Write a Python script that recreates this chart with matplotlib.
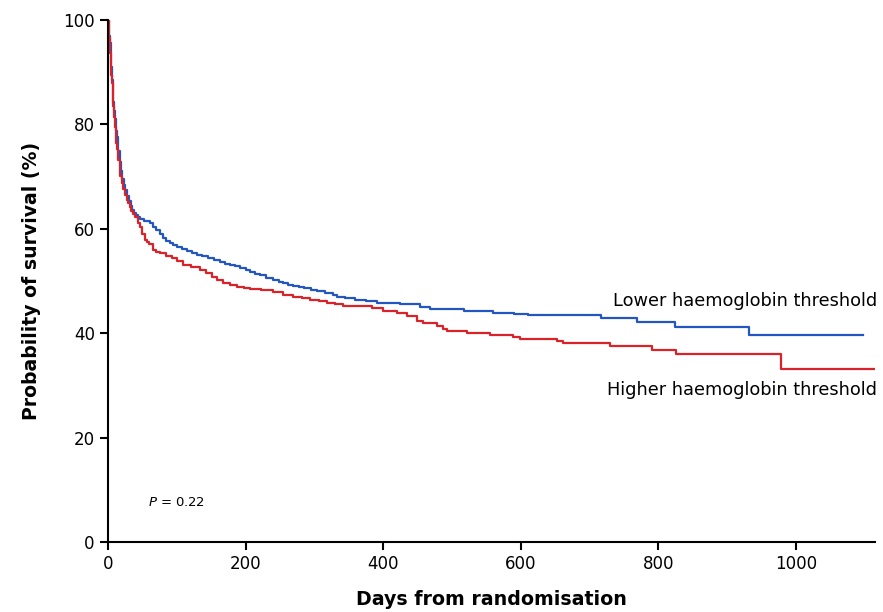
import matplotlib
matplotlib.use("Agg")
import matplotlib.pyplot as plt

# Kaplan-Meier step data (day of drop, survival % after drop)
lower_days = [0, 1, 2, 3, 4, 5, 6, 7, 8, 9, 10, 11, 12, 13, 15, 17, 19, 21, 23, 25, 28,
              30, 33, 35, 38, 40, 43, 46, 52, 61, 66, 70, 75, 80, 85, 90, 95, 100, 108,
              115, 122, 129, 137, 145, 154, 163, 170, 178, 185, 192, 200, 207, 214, 221,
              230, 240, 248, 255, 262, 269, 277, 285, 295, 304, 316, 327, 333, 345, 359,
              375, 391, 425, 454, 468, 517, 560, 590, 611, 716, 769, 825, 932, 1097]
lower_surv = [100, 98.5, 97, 95.6, 93, 91, 88.5, 86, 84.2, 82.5, 81, 79.8, 78.7, 77.6,
              75.0, 72.8, 71.0, 69.5, 68.4, 67.4, 66.2, 65.3, 64.3, 63.6, 63.0, 62.6, 62.2,
              61.9, 61.5, 61.1, 60.4, 59.8, 59.0, 58.2, 57.7, 57.3, 56.9, 56.6, 56.1, 55.7,
              55.4, 55.0, 54.7, 54.4, 54.0, 53.7, 53.3, 53.0, 52.8, 52.5, 52.1, 51.8, 51.4,
              51.1, 50.6, 50.2, 49.9, 49.6, 49.3, 49.0, 48.8, 48.6, 48.3, 48.1, 47.7, 47.3,
              46.9, 46.7, 46.4, 46.1, 45.8, 45.6, 45.1, 44.6, 44.3, 43.9, 43.7, 43.4, 42.9,
              42.1, 41.2, 39.7, 39.7]

higher_days = [0, 1, 2, 3, 4, 5, 6, 7, 8, 9, 10, 11, 12, 13, 15, 17, 18, 20, 22, 25, 27,
               29, 32, 34, 37, 39, 43, 46, 50, 54, 57, 60, 65, 70, 76, 85, 93, 101, 109,
               120, 134, 142, 151, 159, 167, 177, 187, 197, 207, 222, 240, 255, 269, 282,
               294, 307, 319, 330, 342, 384, 400, 420, 435, 449, 458, 478, 487, 493, 522,
               556, 589, 599, 653, 662, 730, 791, 826, 979, 1113]
higher_surv = [100, 98, 96.5, 93.7, 91, 89.5, 88, 85.5, 83.5, 81.5, 79.5, 78, 76.5, 75.2,
               73.2, 71.2, 70.2, 68.8, 67.6, 66.5, 65.6, 65.0, 64.2, 63.5, 62.8, 62.3, 61.2,
               60.3, 59.0, 57.9, 57.5, 57.0, 55.9, 55.6, 55.4, 54.8, 54.4, 53.8, 53.1, 52.6,
               52.1, 51.5, 50.8, 50.2, 49.6, 49.2, 48.9, 48.7, 48.5, 48.2, 47.9, 47.4, 47.0,
               46.7, 46.4, 46.1, 45.8, 45.5, 45.3, 44.8, 44.3, 43.9, 43.2, 42.4, 42.0, 41.4,
               40.8, 40.4, 40.1, 39.7, 39.3, 38.9, 38.5, 38.2, 37.5, 36.8, 36.0, 33.1, 33.1]

x_ticks = [0, 200, 400, 600, 800, 1000]
y_ticks = [0, 20, 40, 60, 80, 100]

fig = plt.figure(figsize=(8.83, 6.12), dpi=100)
ax = fig.add_axes([0.1223, 0.1144, 0.8686, 0.8529])

ax.step(lower_days, lower_surv, where='post', color='#2456c0', lw=1.6)
ax.step(higher_days, higher_surv, where='post', color='#d8232a', lw=1.6)

ax.set_xlim(0, 1115)
ax.set_ylim(0, 100)
ax.set_xticks(x_ticks)
ax.set_yticks(y_ticks)
ax.tick_params(direction='out', length=6, width=1.5, labelsize=12, colors='black')
for side in ['top', 'right']:
    ax.spines[side].set_visible(False)
for side in ['left', 'bottom']:
    ax.spines[side].set_linewidth(1.5)

ax.set_xlabel('Days from randomisation', fontsize=13.7, fontweight='bold', labelpad=12)
ax.set_ylabel('Probability of survival (%)', fontsize=13.6, fontweight='bold', labelpad=16)

ax.text(1118, 46.2, 'Lower haemoglobin threshold', ha='right', va='center', fontsize=12.8)
ax.text(1118, 29.1, 'Higher haemoglobin threshold', ha='right', va='center', fontsize=12.8)
ax.text(58, 7.5, r'$P$ = 0.22', ha='left', va='center', fontsize=9.5)

fig.savefig('out.png', dpi=100)
